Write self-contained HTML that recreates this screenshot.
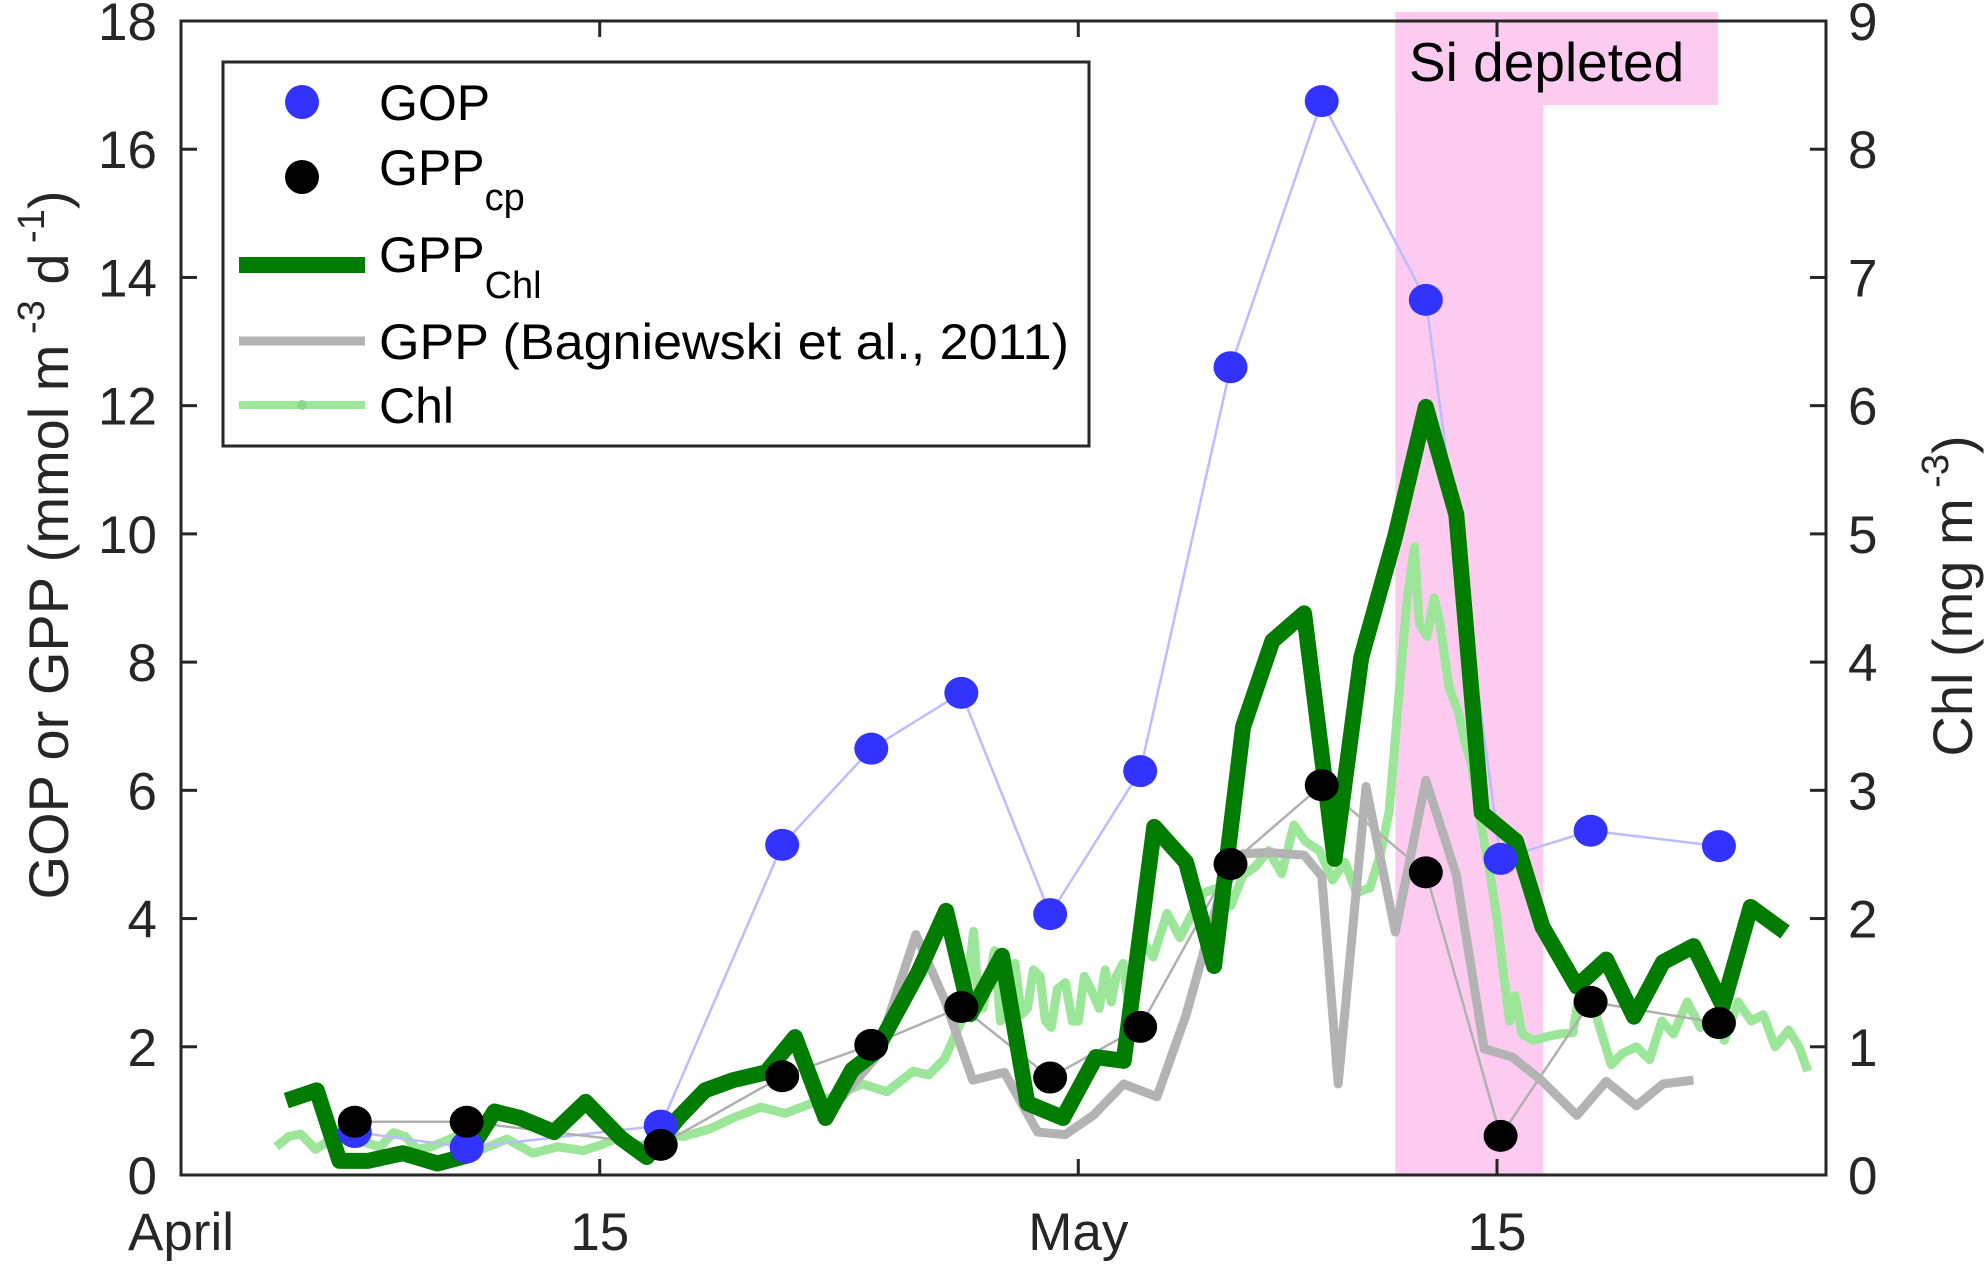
<!DOCTYPE html>
<html><head><meta charset="utf-8"><style>
html,body{margin:0;padding:0;background:#fff}
svg{display:block;font-family:"Liberation Sans",Arial,sans-serif}
</style></head><body>
<svg id="chart" width="1988" height="1264" viewBox="0 0 1988 1264"></svg>
<script>
// Day offsets from April 1 and values
const gopDays=[5.81,9.55,16.04,20.1,23.08,26.09,29.06,32.07,35.09,38.14,41.62,44.12,47.13,51.42];
const gopVals=[0.67,0.43,0.77,5.15,6.65,7.52,4.07,6.3,12.6,16.75,13.65,4.93,5.37,5.13];
const cpDays=gopDays;
const cpVals=[0.83,0.83,0.47,1.54,2.03,2.62,1.52,2.31,4.85,6.08,4.72,0.61,2.70,2.37];
const chlGppDays=[3.52,4.54,5.30,6.24,7.42,8.57,9.55,10.48,11.33,12.47,13.53,14.72,15.57,16.63,17.52,18.46,19.56,20.53,21.55,22.44,23.21,24.65,25.58,26.39,27.45,28.30,29.49,30.59,31.52,32.54,33.60,34.54,35.51,36.49,37.55,38.57,39.46,40.60,41.62,42.64,43.49,44.63,45.52,46.67,47.65,48.58,49.55,50.57,51.55,52.48,53.63];
const chlGppVals=[1.16,1.32,0.22,0.22,0.34,0.18,0.30,0.99,0.89,0.67,1.14,0.57,0.28,0.89,1.32,1.48,1.60,2.15,0.89,1.64,1.92,3.16,4.12,2.51,3.42,1.12,0.89,1.84,1.78,5.43,4.88,3.26,6.99,8.33,8.76,4.93,8.07,9.97,11.98,10.30,5.65,5.21,3.87,2.94,3.36,2.47,3.32,3.57,2.64,4.18,3.79];
const bagDays=[21.93,23.21,24.57,25.54,26.47,27.53,28.64,29.57,30.50,31.52,32.63,33.60,34.66,35.51,36.36,37.55,38.14,38.69,39.62,40.60,41.62,42.64,43.57,44.51,45.52,46.67,47.65,48.66,49.55,50.57];
const bagVals=[1.12,1.82,3.75,2.72,1.48,1.60,0.67,0.63,0.93,1.42,1.22,2.49,4.26,5.01,5.03,4.99,4.66,1.42,6.06,3.79,6.16,4.68,1.97,1.84,1.46,0.93,1.46,1.08,1.42,1.48];
const chlDays=[3.18,3.6,4.0,4.5,4.96,5.4,5.8,6.2,6.66,7.1,7.5,7.9,8.36,9.2,10.06,10.9,11.76,12.6,13.45,14.1,14.72,15.4,15.99,16.8,17.69,18.5,19.39,20.2,21.09,21.9,22.78,23.6,24.48,25.0,25.54,25.9,26.18,26.35,26.5,26.65,26.81,27.03,27.2,27.4,27.6,27.88,28.1,28.3,28.5,28.72,28.9,29.1,29.3,29.57,29.8,30.0,30.2,30.42,30.7,30.9,31.1,31.27,31.5,31.7,31.9,32.12,32.5,32.97,33.4,33.81,34.2,34.66,35.1,35.51,35.9,36.36,36.8,37.21,37.6,38.06,38.5,38.91,39.3,39.75,40.1,40.39,40.6,40.81,41.0,41.24,41.4,41.66,41.9,42.09,42.4,42.72,42.9,43.15,43.35,43.57,43.8,44.0,44.2,44.42,44.6,44.84,45.2,45.69,46.1,46.54,46.8,47.0,47.18,47.5,47.82,48.2,48.66,49.1,49.51,49.9,50.36,50.8,51.21,51.6,52.06,52.5,52.9,53.3,53.75,54.1,54.39];
const chlVals=[0.22,0.3,0.32,0.2,0.27,0.38,0.35,0.25,0.22,0.33,0.3,0.2,0.22,0.3,0.20,0.28,0.17,0.22,0.19,0.24,0.30,0.22,0.32,0.3,0.36,0.45,0.53,0.48,0.56,0.62,0.71,0.65,0.81,0.78,0.91,1.1,1.25,1.6,1.9,1.4,1.3,1.55,1.75,1.2,1.5,1.65,1.25,1.3,1.6,1.55,1.2,1.15,1.45,1.50,1.2,1.2,1.55,1.45,1.3,1.6,1.35,1.55,1.65,1.3,1.55,1.84,1.7,2.04,1.85,2.04,2.2,2.24,2.1,2.34,2.4,2.53,2.35,2.73,2.6,2.53,2.3,2.44,2.2,2.24,2.5,2.83,3.4,4.0,4.5,4.9,4.3,4.2,4.5,4.3,3.8,3.6,3.4,3.2,2.9,2.6,2.3,2.0,1.6,1.2,1.4,1.1,1.05,1.08,1.1,1.11,1.5,1.3,1.35,1.1,0.86,0.95,1.0,0.9,1.2,1.1,1.35,1.15,1.25,1.05,1.35,1.2,1.25,1.0,1.13,1.0,0.81];
const yTicks=[0,2,4,6,8,10,12,14,16,18];
const y2Ticks=[0,1,2,3,4,5,6,7,8,9];
const xTickDays=[0,14,30,44];
const xTickLabels=["April","15","May","15"];
const siBand=[40.6,45.55];

const L=181,R=1826,T=21,B=1175,XMAX=55;
const xs=d=>L+d*(R-L)/XMAX;
const ys=v=>B-v*(B-T)/18;
const ys2=v=>B-v*(B-T)/9;
const NS="http://www.w3.org/2000/svg";
const svg=document.getElementById('chart');
function mk(tag,attrs,parent){const e=document.createElementNS(NS,tag);for(const k in attrs)e.setAttribute(k,attrs[k]);(parent||svg).appendChild(e);return e;}
function poly(dx,vals,yf,attrs){return mk('polyline',Object.assign({points:dx.map((d,i)=>xs(d)+','+yf(vals[i])).join(' '),fill:'none','stroke-linejoin':'round'},attrs));}

let e=mk('rect',{x:xs(siBand[0]),y:T,width:xs(siBand[1])-xs(siBand[0]),height:B-T,fill:'#fdcbf0'});


e=mk('rect',{x:xs(siBand[0]),y:12,width:1718-xs(siBand[0]),height:93,fill:'#fdcbf0'});


e=mk('text',{x:1409,y:81,'font-size':55,fill:'#000'});e.textContent='Si depleted';



e=poly(chlDays,chlVals,ys2,{stroke:'#9ce69a','stroke-width':9});


e=poly(gopDays,gopVals,ys,{stroke:'#bcbcff','stroke-width':2.5});


e=poly(cpDays,cpVals,ys,{stroke:'#b0b0b0','stroke-width':2.5});


e=poly(bagDays,bagVals,ys,{stroke:'#b3b3b3','stroke-width':9});


e=poly(chlGppDays,chlGppVals,ys,{stroke:'#007c00','stroke-width':16});


gopDays.forEach((d,i)=>{const c=mk('ellipse',{cx:xs(d),cy:ys(gopVals[i]),rx:17,ry:16,fill:'#3333ff'});

});
cpDays.forEach((d,i)=>{const c=mk('ellipse',{cx:xs(d),cy:ys(cpVals[i]),rx:17,ry:16,fill:'#000'});

});

e=mk('rect',{x:L,y:T,width:R-L,height:B-T,fill:'none',stroke:'#262626','stroke-width':3});


yTicks.forEach(v=>{const y=ys(v);mk('line',{x1:L,x2:L+16,y1:y,y2:y,stroke:'#262626','stroke-width':3});
const t=mk('text',{x:157,y:y+19,'font-size':53,'text-anchor':'end',fill:'#262626'});t.textContent=v;

});
y2Ticks.forEach(v=>{const y=ys2(v);mk('line',{x1:R-16,x2:R,y1:y,y2:y,stroke:'#262626','stroke-width':3});
const t=mk('text',{x:1848,y:y+19,'font-size':53,fill:'#262626'});t.textContent=v;

});
xTickDays.forEach((d,i)=>{const x=xs(d);mk('line',{x1:x,x2:x,y1:B,y2:B-16,stroke:'#262626','stroke-width':3});mk('line',{x1:x,x2:x,y1:T,y2:T+16,stroke:'#262626','stroke-width':3});
const t=mk('text',{x:x,y:1250,'font-size':53,'text-anchor':'middle',fill:'#262626'});t.textContent=xTickLabels[i];

});
</script>
<svg width="1988" height="1264" style="position:absolute;left:0;top:0" font-family="Liberation Sans, Arial, sans-serif">
 <text transform="translate(68,545) rotate(-90)" text-anchor="middle" font-size="56" fill="#262626">GOP or GPP (mmol m<tspan dy="-24" font-size="38"> -3</tspan><tspan dy="24"> d</tspan><tspan dy="-24" font-size="38"> -1</tspan><tspan dy="24">)</tspan></text>
 <text transform="translate(1972,596) rotate(-90)" text-anchor="middle" font-size="56" fill="#262626">Chl (mg m<tspan dy="-24" font-size="38"> -3</tspan><tspan dy="24">)</tspan></text>
 <g>
  <rect x="223" y="62" width="866" height="384" fill="#fff" stroke="#262626" stroke-width="3"/>
  <ellipse cx="302" cy="102" rx="17" ry="17" fill="#3333ff"/>
  <text x="379" y="120" font-size="50">GOP</text>
  <ellipse cx="302" cy="177" rx="17" ry="17" fill="#000"/>
  <text x="379" y="185" font-size="50">GPP<tspan dy="25" font-size="38">cp</tspan></text>
  <line x1="239" x2="365" y1="265" y2="265" stroke="#007c00" stroke-width="16"/>
  <text x="379" y="272" font-size="50">GPP<tspan dy="26" font-size="38">Chl</tspan></text>
  <line x1="239" x2="365" y1="341" y2="341" stroke="#b3b3b3" stroke-width="9"/>
  <text x="379" y="359" font-size="50" textLength="690" lengthAdjust="spacingAndGlyphs">GPP (Bagniewski et al., 2011)</text>
  <line x1="239" x2="365" y1="405" y2="405" stroke="#9ce69a" stroke-width="8"/>
  <circle cx="302" cy="405" r="5" fill="#8ad888"/>
  <text x="379" y="423" font-size="50">Chl</text>
 </g>
</svg>
</body></html>
